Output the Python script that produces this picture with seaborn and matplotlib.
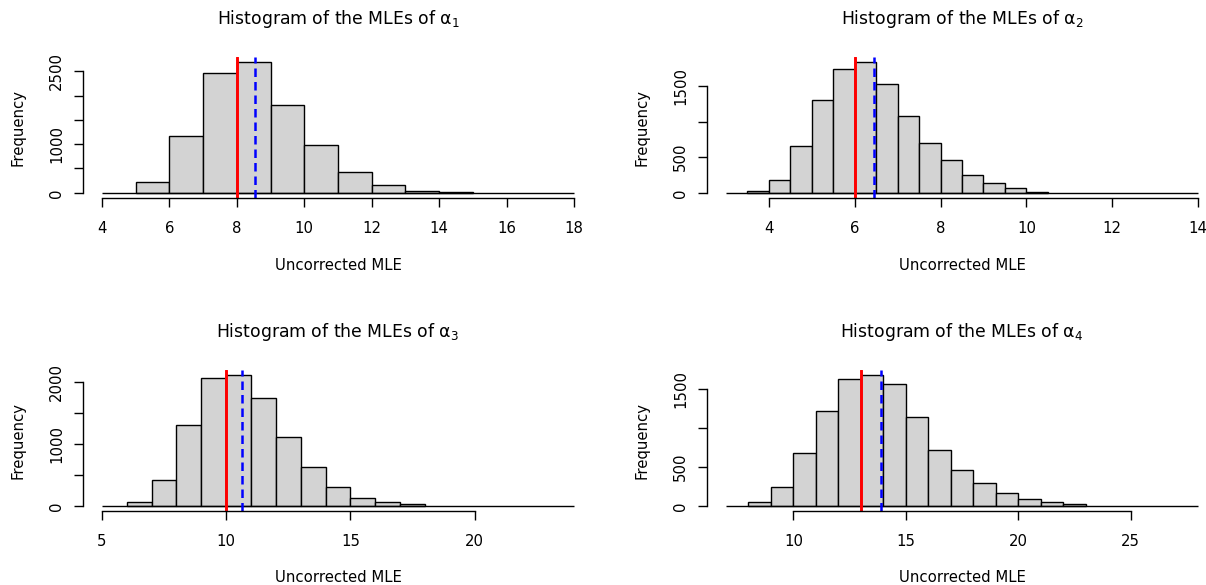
import numpy as np
import pandas as pd
import matplotlib
matplotlib.use("Agg")
import matplotlib.pyplot as plt
import seaborn as sns

# Simulated MLE counts per histogram bin for each shape parameter
alpha1_counts = [221, 1167, 2465, 2693, 1816, 974, 421, 166, 28, 20]
alpha1_bin_start, alpha1_bin_width = 5.0, 1.0
alpha1_true, alpha1_mean = 8.0, 8.55

alpha2_counts = [19, 174, 663, 1307, 1744, 1838, 1523, 1081, 705, 461, 249, 132, 66, 14]
alpha2_bin_start, alpha2_bin_width = 3.5, 0.5
alpha2_true, alpha2_mean = 6.0, 6.45

alpha3_counts = [55, 414, 1308, 2076, 2120, 1744, 1112, 621, 311, 131, 60, 27]
alpha3_bin_start, alpha3_bin_width = 6.0, 1.0
alpha3_true, alpha3_mean = 10.0, 10.65

alpha4_counts = [47, 246, 672, 1215, 1625, 1681, 1560, 1138, 711, 465, 289, 168, 86, 47, 22]
alpha4_bin_start, alpha4_bin_width = 8.0, 1.0
alpha4_true, alpha4_mean = 13.0, 13.88

# x ranges and tick marks
alpha1_xlim, alpha1_xticks = (4, 18), [4, 6, 8, 10, 12, 14, 16, 18]
alpha2_xlim, alpha2_xticks = (3, 14), [4, 6, 8, 10, 12, 14]
alpha3_xlim, alpha3_xticks = (5, 24), [5, 10, 15, 20]
alpha4_xlim, alpha4_xticks = (7, 28), [10, 15, 20, 25]

alpha1_yticks, alpha1_ylabels = [0, 500, 1000, 1500, 2000, 2500], ["0", "", "1000", "", "", "2500"]
alpha2_yticks, alpha2_ylabels = [0, 500, 1000, 1500], ["0", "500", "", "1500"]
alpha3_yticks, alpha3_ylabels = [0, 500, 1000, 1500, 2000], ["0", "", "1000", "", "2000"]
alpha4_yticks, alpha4_ylabels = [0, 500, 1000, 1500], ["0", "500", "", "1500"]

sns.set_theme(style="ticks")
plt.rcParams["font.family"] = ["DejaVu Sans"]
plt.rcParams["mathtext.fontset"] = "dejavusans"

W, H = 1206, 585
fig = plt.figure(figsize=(W / 100, H / 100), dpi=100)
fig.patch.set_facecolor("white")

PW, PH = 510, 141.3
panels = [
    (1, alpha1_counts, alpha1_bin_start, alpha1_bin_width, alpha1_true, alpha1_mean,
     alpha1_xlim, alpha1_xticks, alpha1_yticks, alpha1_ylabels, 83, 198),
    (2, alpha2_counts, alpha2_bin_start, alpha2_bin_width, alpha2_true, alpha2_mean,
     alpha2_xlim, alpha2_xticks, alpha2_yticks, alpha2_ylabels, 707, 198),
    (3, alpha3_counts, alpha3_bin_start, alpha3_bin_width, alpha3_true, alpha3_mean,
     alpha3_xlim, alpha3_xticks, alpha3_yticks, alpha3_ylabels, 83, 511),
    (4, alpha4_counts, alpha4_bin_start, alpha4_bin_width, alpha4_true, alpha4_mean,
     alpha4_xlim, alpha4_xticks, alpha4_yticks, alpha4_ylabels, 707, 511),
]

FS = 10.7
for (k, counts, start, width, true_val, mean_val, xlim, xticks, yticks, ylabels, left_px, bottom_px) in panels:
    ax = fig.add_axes([left_px / W, (H - bottom_px) / H, PW / W, PH / H])
    ax.set_facecolor("white")
    edges = [start + width * i for i in range(len(counts) + 1)]
    df = pd.DataFrame({
        "mle": [(edges[i] + edges[i + 1]) / 2 for i in range(len(counts))],
        "n": counts,
    })
    sns.histplot(data=df, x="mle", weights="n", bins=edges, ax=ax, stat="count",
                 color="#D3D3D3", edgecolor="black", linewidth=1.0, alpha=1.0)
    # zero line across the full x range
    ax.plot(list(xlim), [0, 0], color="black", lw=1.0, solid_capstyle="butt")
    ax.axvline(true_val, color="#FF0000", lw=2.1)
    ax.axvline(mean_val, color="#0000FF", lw=1.8, linestyle=(0, (3.4, 2.0)))

    span = xlim[1] - xlim[0]
    ax.set_xlim(xlim[0] - 0.04 * span, xlim[1] + 0.04 * span)
    ymax = max(counts)
    ax.set_ylim(-0.04 * ymax, 1.04 * ymax)

    for s in ("top", "right"):
        ax.spines[s].set_visible(False)
    for s in ("left", "bottom"):
        ax.spines[s].set_linewidth(1.0)
        ax.spines[s].set_color("black")
    ax.spines["bottom"].set_bounds(xticks[0], xticks[-1])
    ax.spines["left"].set_bounds(yticks[0], yticks[-1])

    ax.set_xticks(xticks)
    ax.set_xticklabels([str(t) for t in xticks])
    ax.set_yticks(yticks)
    ax.set_yticklabels(ylabels, rotation=90, va="center")
    ax.tick_params(axis="both", direction="out", length=6.3, width=1.0, color="black",
                   labelsize=FS, labelcolor="black")
    ax.tick_params(axis="x", pad=10.5)
    ax.tick_params(axis="y", pad=7.5)

    ax.set_xlabel("Uncorrected MLE", fontsize=FS, color="black")
    ax.xaxis.set_label_coords(0.5, -67 / PH)
    ax.xaxis.label.set_verticalalignment("center")
    ax.set_ylabel("Frequency", fontsize=FS, color="black")
    ax.yaxis.set_label_coords(-65.5 / PW, 0.5)
    ax.yaxis.label.set_verticalalignment("center")

    ax.set_title(r"Histogram of the MLEs of $\mathrm{\alpha}_{%d}$" % k, fontsize=12.4,
                 color="black", y=1 + 37.7 / PH, va="center", pad=0)

fig.savefig("out.png", dpi=100, facecolor="white")
